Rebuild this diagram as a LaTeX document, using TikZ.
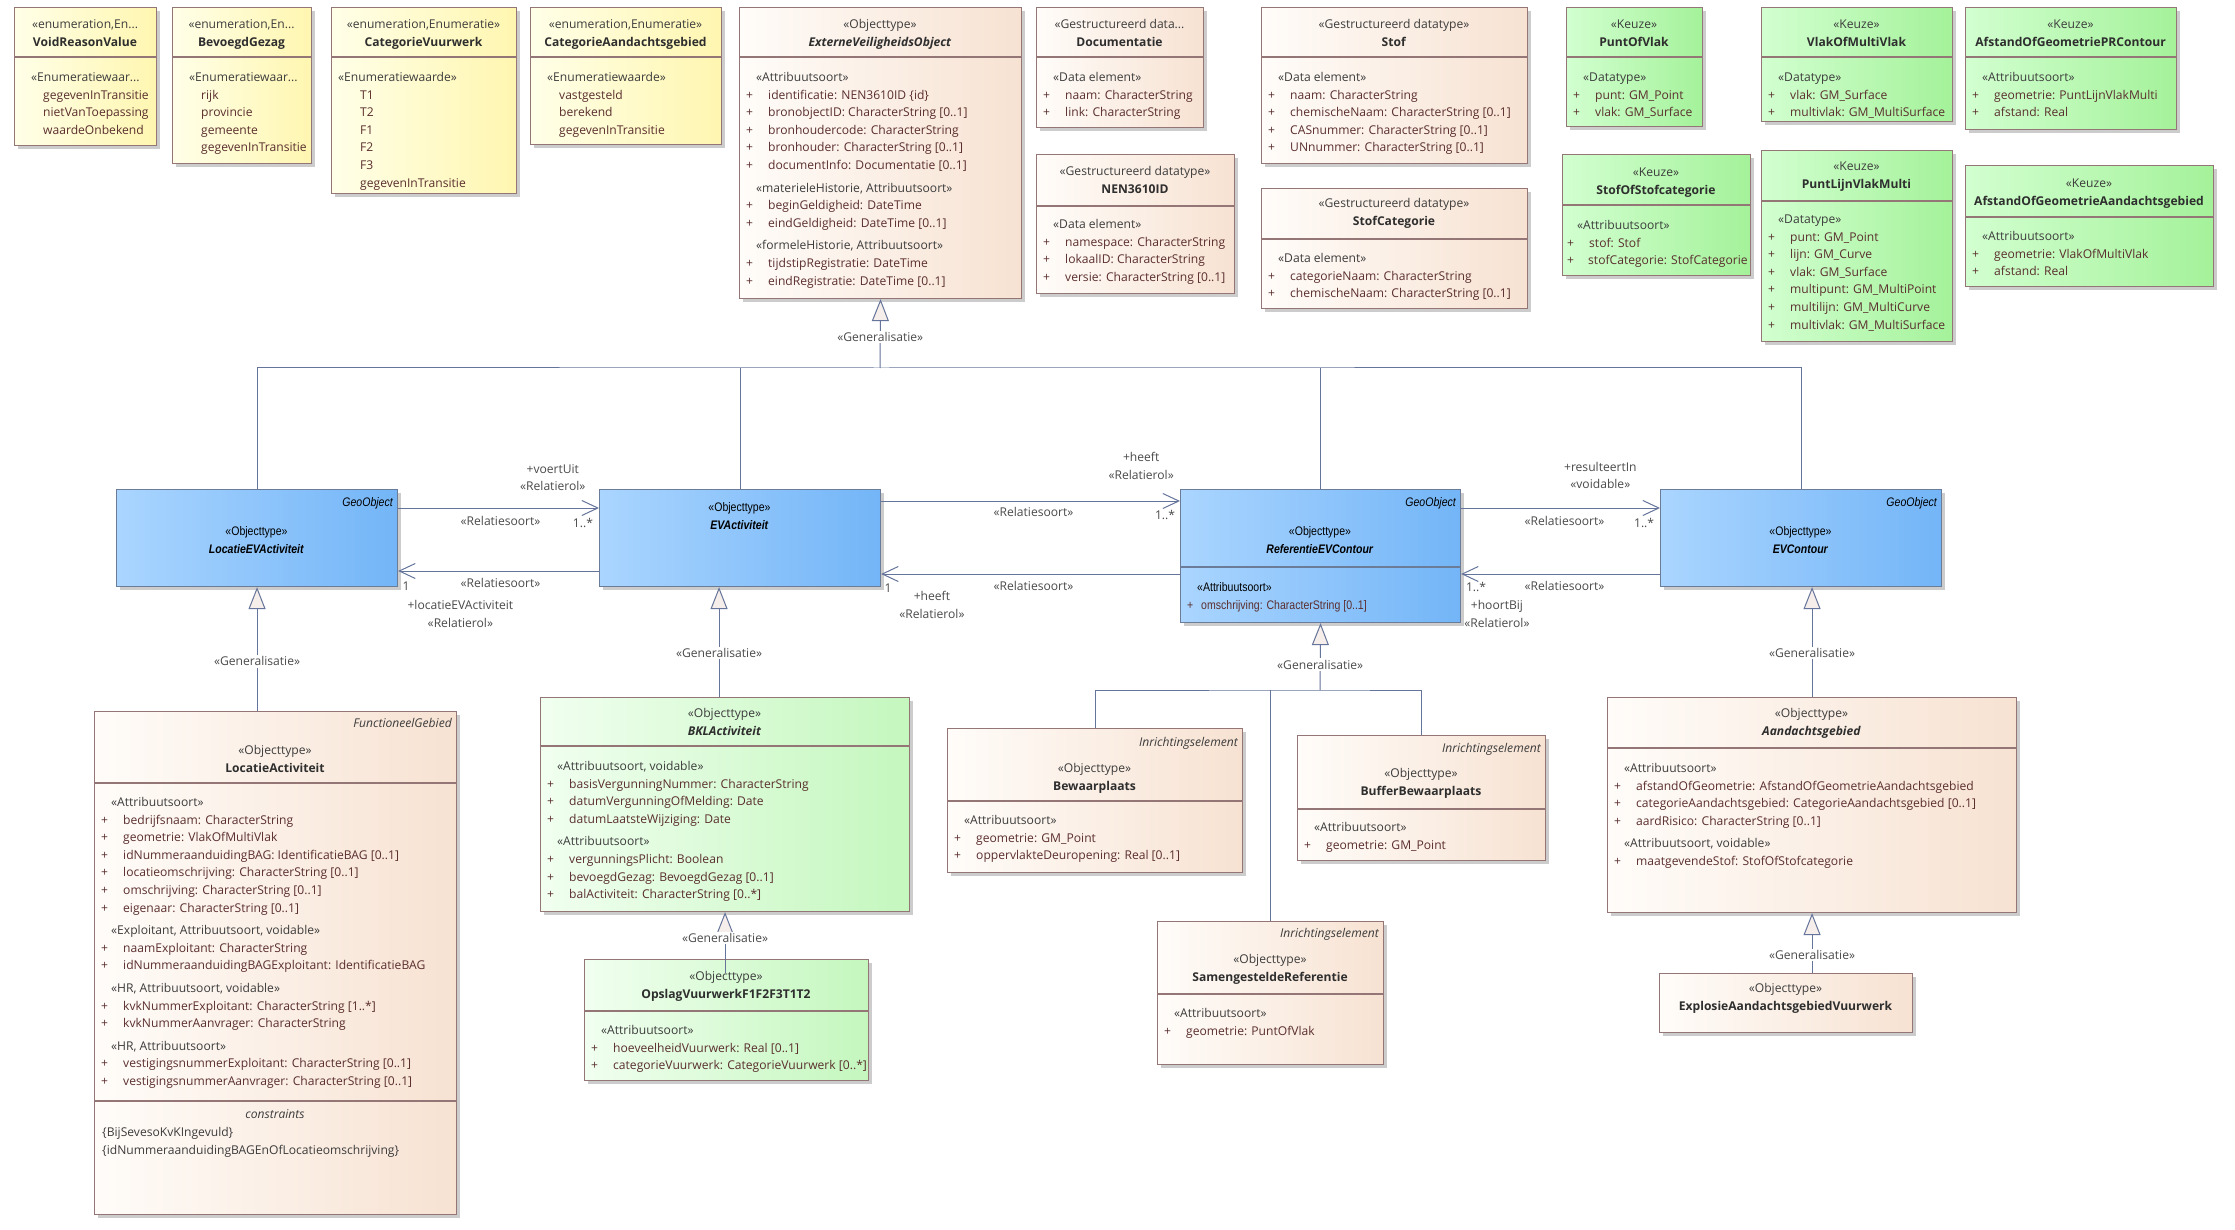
\documentclass[tikz,border=0pt]{standalone}
\usepackage{fontspec}
\setmainfont{Open Sans}
\newfontfamily\smal[FakeStretch=0.85]{Liberation Sans}
\usetikzlibrary{arrows.meta,calc}
\definecolor{rand}{HTML}{957676}
\definecolor{randblauw}{HTML}{6A7C98}
\definecolor{lijnkleur}{HTML}{65749A}
\definecolor{genvul}{HTML}{F6EEEA}
\definecolor{geelL}{HTML}{FFFFE8}
\definecolor{geelR}{HTML}{FFF6B0}
\definecolor{tanL}{HTML}{FFFCF9}
\definecolor{tanR}{HTML}{F7E2D2}
\definecolor{keuzeL}{HTML}{D2FFD0}
\definecolor{keuzeR}{HTML}{A4F29A}
\definecolor{groenL}{HTML}{F1FFF0}
\definecolor{groenR}{HTML}{C4F7BE}
\definecolor{blauwL}{HTML}{AAD5FF}
\definecolor{blauwR}{HTML}{73B5F7}
\definecolor{stgrijs}{HTML}{3C3C3C}
\definecolor{atbruin}{HTML}{5A2E2E}
\definecolor{naamgrijs}{HTML}{2E2E2E}
\definecolor{lblgrijs}{HTML}{4A4A4A}
\newcommand{\tekst}{\fontsize{12.1}{17.6}\selectfont}
\newcommand{\blauw}{\smal\fontsize{12.4}{17.6}\selectfont}
\newcommand{\grp}[1]{\strut\hspace*{10pt}\textcolor{stgrijs}{#1}}
\newcommand{\atr}[1]{\strut\makebox[22pt][l]{+}#1}
\newcommand{\wrd}[1]{\strut\hspace*{22pt}#1}
\newcommand{\naam}[1]{\strut\textcolor{naamgrijs}{\textbf{#1}}}
\newcommand{\anaam}[1]{\strut\textcolor{naamgrijs}{\textbf{\textit{#1}}}}
% naam, stijl, x, y, breedte, hoogte, kophoogte
\newcommand{\klasse}[7]{%
  \fill[schaduw] (#3+4,#4+4) rectangle ++(#5,#6);
  \node[#2, minimum width=#5pt, minimum height=#6pt] (#1) at (#3,#4) {};
  \ifdim #7pt>0pt
    \draw[scheid] ([yshift=-#7pt]#1.north west) -- ([yshift=-#7pt]#1.north east);
  \fi}
\tikzset{
  kader/.style={anchor=north west, inner sep=0, line width=1.1pt},
  geel/.style={kader, draw=rand, left color=geelL, right color=geelR},
  tan/.style={kader, draw=rand, left color=tanL, right color=tanR},
  keuze/.style={kader, draw=rand, left color=keuzeL, right color=keuzeR},
  lgroen/.style={kader, draw=rand, left color=groenL, right color=groenR},
  blauwbox/.style={kader, draw=randblauw, left color=blauwL, right color=blauwR},
  schaduw/.style={fill=black!20},
  scheid/.style={draw=rand, line width=1.1pt},
  kop/.style={anchor=north, inner sep=0, align=center, font=\tekst, text=stgrijs},
  bkop/.style={anchor=north, inner sep=0, align=center, font=\blauw, text=black},
  lijst/.style={anchor=north west, inner sep=0, align=left, font=\tekst, text=atbruin},
  ttag/.style={anchor=north east, inner sep=0, font=\tekst\itshape, text=stgrijs},
  btag/.style={anchor=north east, inner sep=0, font=\blauw\itshape, text=black},
  lijn/.style={draw=lijnkleur, line width=1pt},
  gen/.style={lijn, -{Triangle[length=22pt, width=17pt, fill=genvul]}},
  assoc/.style={lijn, -{Straight Barb[length=16pt, width=15pt]}},
  lbl/.style={inner sep=0, align=center, font=\tekst, text=lblgrijs},
  gl/.style={lbl, fill=white, inner sep=1.5pt},
}

\begin{document}
\begin{tikzpicture}[x=1pt, y=-1pt]
\fill[white] (0,0) rectangle (2235,1230);
\useasboundingbox (0,0) rectangle (2235,1230);

% enumeraties
\klasse{void}{geel}{14}{7}{142}{138}{50}
\node[kop] (void-k) at (85,16) {\strut«enumeration,En...\\\naam{VoidReasonValue}};
\node[lijst] (void-a) at (21,69) {\grp{«Enumeratiewaar...}\\\wrd{gegevenInTransitie}\\\wrd{nietVanToepassing}\\\wrd{waardeOnbekend}};

\klasse{bev}{geel}{172}{7}{139}{156}{50}
\node[kop] (bev-k) at (241.5,16) {\strut«enumeration,En...\\\naam{BevoegdGezag}};
\node[lijst] (bev-a) at (179,69) {\grp{«Enumeratiewaar...}\\\wrd{rijk}\\\wrd{provincie}\\\wrd{gemeente}\\\wrd{gegevenInTransitie}};

\klasse{catv}{geel}{331}{7}{185}{186}{50}
\node[kop] (catv-k) at (423.5,16) {\strut«enumeration,Enumeratie»\\\naam{CategorieVuurwerk}};
\node[lijst] (catv-a) at (338,69) {\strut\textcolor{stgrijs}{«Enumeratiewaarde»}\\\wrd{T1}\\\wrd{T2}\\\wrd{F1}\\\wrd{F2}\\\wrd{F3}\\\wrd{gegevenInTransitie}};

\klasse{cata}{geel}{530}{7}{191}{137}{50}
\node[kop] (cata-k) at (625.5,16) {\strut«enumeration,Enumeratie»\\\naam{CategorieAandachtsgebied}};
\node[lijst] (cata-a) at (537,69) {\grp{«Enumeratiewaarde»}\\\wrd{vastgesteld}\\\wrd{berekend}\\\wrd{gegevenInTransitie}};

% externe veiligheid en datatypes
\klasse{evo}{tan}{739}{7}{282}{291}{50}
\node[kop] (evo-k) at (880,16) {\strut«Objecttype»\\\anaam{ExterneVeiligheidsObject}};
\node[lijst] (evo-a) at (746,69) {\grp{«Attribuutsoort»}\\
  \atr{identificatie: NEN3610ID \{id\}}\\
  \atr{bronobjectID: CharacterString [0..1]}\\
  \atr{bronhoudercode: CharacterString}\\
  \atr{bronhouder: CharacterString [0..1]}\\
  \atr{documentInfo: Documentatie [0..1]}\\[5pt]
  \grp{«materieleHistorie, Attribuutsoort»}\\
  \atr{beginGeldigheid: DateTime}\\
  \atr{eindGeldigheid: DateTime [0..1]}\\[5pt]
  \grp{«formeleHistorie, Attribuutsoort»}\\
  \atr{tijdstipRegistratie: DateTime}\\
  \atr{eindRegistratie: DateTime [0..1]}};

\klasse{doc}{tan}{1036}{7}{167}{120}{50}
\node[kop] (doc-k) at (1119.5,16) {\strut«Gestructureerd data...\\\naam{Documentatie}};
\node[lijst] (doc-a) at (1043,69) {\grp{«Data element»}\\\atr{naam: CharacterString}\\\atr{link: CharacterString}};

\klasse{nen}{tan}{1036}{154}{198}{139}{52}
\node[kop] (nen-k) at (1135,163) {\strut«Gestructureerd datatype»\\\naam{NEN3610ID}};
\node[lijst] (nen-a) at (1043,216) {\grp{«Data element»}\\\atr{namespace: CharacterString}\\\atr{lokaalID: CharacterString}\\\atr{versie: CharacterString [0..1]}};

\klasse{stof}{tan}{1261}{7}{266}{156}{50}
\node[kop] (stof-k) at (1394,16) {\strut«Gestructureerd datatype»\\\naam{Stof}};
\node[lijst] (stof-a) at (1268,69) {\grp{«Data element»}\\\atr{naam: CharacterString}\\\atr{chemischeNaam: CharacterString [0..1]}\\\atr{CASnummer: CharacterString [0..1]}\\\atr{UNnummer: CharacterString [0..1]}};

\klasse{stofcat}{tan}{1261}{188}{266}{120}{51}
\node[kop] (stofcat-k) at (1394,195) {\strut«Gestructureerd datatype»\\\naam{StofCategorie}};
\node[lijst] (stofcat-a) at (1268,250) {\grp{«Data element»}\\\atr{categorieNaam: CharacterString}\\\atr{chemischeNaam: CharacterString [0..1]}};

% keuzes
\klasse{pov}{keuze}{1566}{7}{136}{119}{50}
\node[kop] (pov-k) at (1634,16) {\strut«Keuze»\\\naam{PuntOfVlak}};
\node[lijst] (pov-a) at (1573,69) {\grp{«Datatype»}\\\atr{punt: GM\_Point}\\\atr{vlak: GM\_Surface}};

\klasse{vomv}{keuze}{1761}{7}{191}{114}{50}
\node[kop] (vomv-k) at (1856.5,16) {\strut«Keuze»\\\naam{VlakOfMultiVlak}};
\node[lijst] (vomv-a) at (1768,69) {\grp{«Datatype»}\\\atr{vlak: GM\_Surface}\\\atr{multivlak: GM\_MultiSurface}};

\klasse{agpr}{keuze}{1965}{7}{211}{122}{50}
\node[kop] (agpr-k) at (2070.5,16) {\strut«Keuze»\\\naam{AfstandOfGeometriePRContour}};
\node[lijst] (agpr-a) at (1972,69) {\grp{«Attribuutsoort»}\\\atr{geometrie: PuntLijnVlakMulti}\\\atr{afstand: Real}};

\klasse{sos}{keuze}{1562}{154}{188}{121}{51}
\node[kop] (sos-k) at (1656,164) {\strut«Keuze»\\\naam{StofOfStofcategorie}};
\node[lijst] (sos-a) at (1567,217) {\grp{«Attribuutsoort»}\\\atr{stof: Stof}\\\strut\makebox[21pt][l]{+}stofCategorie: StofCategorie};

\klasse{plvm}{keuze}{1761}{150}{191}{191}{51}
\node[kop] (plvm-k) at (1856.5,158) {\strut«Keuze»\\\naam{PuntLijnVlakMulti}};
\node[lijst] (plvm-a) at (1768,211) {\grp{«Datatype»}\\\atr{punt: GM\_Point}\\\atr{lijn: GM\_Curve}\\\atr{vlak: GM\_Surface}\\\atr{multipunt: GM\_MultiPoint}\\\atr{multilijn: GM\_MultiCurve}\\\atr{multivlak: GM\_MultiSurface}};

\klasse{agag}{keuze}{1965}{165}{248}{121}{52}
\node[kop] (agag-k) at (2089,175) {\strut«Keuze»\\\naam{AfstandOfGeometrieAandachtsgebied}};
\node[lijst] (agag-a) at (1972,228) {\grp{«Attribuutsoort»}\\\atr{geometrie: VlakOfMultiVlak}\\\atr{afstand: Real}};

% geo-objecten
\klasse{locev}{blauwbox}{116}{489}{281}{97}{0}
\node[btag] (locev-t) at (393,494) {\strut GeoObject};
\node[bkop] (locev-k) at (256.5,523) {\strut«Objecttype»\\\strut\textbf{\textit{LocatieEVActiviteit}}};

\klasse{eva}{blauwbox}{599}{489}{281}{97}{0}
\node[bkop] (eva-k) at (739.5,499) {\strut«Objecttype»\\\strut\textbf{\textit{EVActiviteit}}};

\klasse{ref}{blauwbox}{1180}{489}{280}{133}{0}
\draw[draw=randblauw, line width=1.1pt] ([yshift=-78pt]ref.north west) -- ([yshift=-78pt]ref.north east);
\node[btag] (ref-t) at (1456,494) {\strut GeoObject};
\node[bkop] (ref-k) at (1320,523) {\strut«Objecttype»\\\strut\textbf{\textit{ReferentieEVContour}}};
\node[lijst, font=\blauw] (ref-a) at (1187,579) {\strut\hspace*{10pt}\textcolor{black}{«Attribuutsoort»}\\\strut\makebox[14pt][l]{+}omschrijving: CharacterString [0..1]};

\klasse{evc}{blauwbox}{1660}{489}{281}{97}{0}
\node[btag] (evc-t) at (1937,494) {\strut GeoObject};
\node[bkop] (evc-k) at (1800.5,523) {\strut«Objecttype»\\\strut\textbf{\textit{EVContour}}};

% onderste rij
\klasse{loca}{tan}{94}{711}{362}{503}{72}
\draw[scheid] ([yshift=-390pt]loca.north west) -- ([yshift=-390pt]loca.north east);
\node[ttag] (loca-t) at (452,715) {\strut FunctioneelGebied};
\node[kop] (loca-k) at (275,742) {\strut«Objecttype»\\\naam{LocatieActiviteit}};
\node[lijst] (loca-a) at (101,794) {\grp{«Attribuutsoort»}\\
  \atr{bedrijfsnaam: CharacterString}\\
  \atr{geometrie: VlakOfMultiVlak}\\
  \atr{idNummeraanduidingBAG: IdentificatieBAG [0..1]}\\
  \atr{locatieomschrijving: CharacterString [0..1]}\\
  \atr{omschrijving: CharacterString [0..1]}\\
  \atr{eigenaar: CharacterString [0..1]}\\[5pt]
  \grp{«Exploitant, Attribuutsoort, voidable»}\\
  \atr{naamExploitant: CharacterString}\\
  \atr{idNummeraanduidingBAGExploitant: IdentificatieBAG}\\[5pt]
  \grp{«HR, Attribuutsoort, voidable»}\\
  \atr{kvkNummerExploitant: CharacterString [1..*]}\\
  \atr{kvkNummerAanvrager: CharacterString}\\[5pt]
  \grp{«HR, Attribuutsoort»}\\
  \atr{vestigingsnummerExploitant: CharacterString [0..1]}\\
  \atr{vestigingsnummerAanvrager: CharacterString [0..1]}};
\node[kop, font=\tekst\itshape] (loca-c) at (275,1106) {\strut constraints};
\node[lijst, text=stgrijs] (loca-r) at (102,1124) {\strut\{BijSevesoKvKIngevuld\}\\\strut\{idNummeraanduidingBAGEnOfLocatieomschrijving\}};

\klasse{bkl}{lgroen}{540}{697}{369}{214}{49}
\node[kop] (bkl-k) at (724.5,705) {\strut«Objecttype»\\\anaam{BKLActiviteit}};
\node[lijst] (bkl-a) at (547,758) {\grp{«Attribuutsoort, voidable»}\\
  \atr{basisVergunningNummer: CharacterString}\\
  \atr{datumVergunningOfMelding: Date}\\
  \atr{datumLaatsteWijziging: Date}\\[5pt]
  \grp{«Attribuutsoort»}\\
  \atr{vergunningsPlicht: Boolean}\\
  \atr{bevoegdGezag: BevoegdGezag [0..1]}\\
  \atr{balActiviteit: CharacterString [0..*]}};

\klasse{opslag}{lgroen}{584}{959}{284}{121}{52}
\node[kop] (opslag-k) at (726,968) {\strut«Objecttype»\\\naam{OpslagVuurwerkF1F2F3T1T2}};
\node[lijst] (opslag-a) at (591,1022) {\grp{«Attribuutsoort»}\\\atr{hoeveelheidVuurwerk: Real [0..1]}\\\atr{categorieVuurwerk: CategorieVuurwerk [0..*]}};

\klasse{bew}{tan}{947}{728}{295}{144}{73}
\node[ttag] (bew-t) at (1238,734) {\strut Inrichtingselement};
\node[kop] (bew-k) at (1094.5,760) {\strut«Objecttype»\\\naam{Bewaarplaats}};
\node[lijst] (bew-a) at (954,812) {\grp{«Attribuutsoort»}\\\atr{geometrie: GM\_Point}\\\atr{oppervlakteDeuropening: Real [0..1]}};

\klasse{buf}{tan}{1297}{735}{248}{125}{74}
\node[ttag] (buf-t) at (1541,740) {\strut Inrichtingselement};
\node[kop] (buf-k) at (1421,765) {\strut«Objecttype»\\\naam{BufferBewaarplaats}};
\node[lijst] (buf-a) at (1304,819) {\grp{«Attribuutsoort»}\\\atr{geometrie: GM\_Point}};

\klasse{sam}{tan}{1157}{921}{226}{143}{73}
\node[ttag] (sam-t) at (1379,925) {\strut Inrichtingselement};
\node[kop] (sam-k) at (1270,951) {\strut«Objecttype»\\\naam{SamengesteldeReferentie}};
\node[lijst] (sam-a) at (1164,1005) {\grp{«Attribuutsoort»}\\\atr{geometrie: PuntOfVlak}};

\klasse{aand}{tan}{1607}{697}{409}{215}{51}
\node[kop] (aand-k) at (1811.5,705) {\strut«Objecttype»\\\anaam{Aandachtsgebied}};
\node[lijst] (aand-a) at (1614,760) {\grp{«Attribuutsoort»}\\
  \atr{afstandOfGeometrie: AfstandOfGeometrieAandachtsgebied}\\
  \atr{categorieAandachtsgebied: CategorieAandachtsgebied [0..1]}\\
  \atr{aardRisico: CharacterString [0..1]}\\[5pt]
  \grp{«Attribuutsoort, voidable»}\\
  \atr{maatgevendeStof: StofOfStofcategorie}};

\klasse{expl}{tan}{1659}{973}{253}{59}{0}
\node[kop] (expl-k) at (1785.5,980) {\strut«Objecttype»\\\naam{ExplosieAandachtsgebiedVuurwerk}};

% generalisaties
\coordinate (bus) at (880,368);
\draw[lijn] (locev.north) |- (bus) -| (evc.north);
\draw[lijn] (eva.north) -- (eva.north |- bus);
\draw[lijn] (ref.north) -- (ref.north |- bus);
\draw[gen] (bus) -- node[gl, pos=.45] (g1) {«Generalisatie»} (evo.south);

\draw[gen] (loca.north -| locev.south) -- node[gl, pos=.4] (g2) {«Generalisatie»} (locev.south);
\coordinate (eva-v) at ([xshift=-21pt]eva.south);
\draw[gen] (bkl.north -| eva-v) -- node[gl, pos=.4] (g3) {«Generalisatie»} (eva-v);
\coordinate (ops-in) at ([yshift=-14pt]opslag.north);
\draw[gen] (ops-in -| bkl.south) -- node[gl, pos=.58] (g4) {«Generalisatie»} (bkl.south);

\coordinate (rbus) at (1320,690);
\draw[lijn] (bew.north) |- (rbus) -| (buf.north);
\draw[lijn] (sam.north) -- (sam.north |- rbus);
\draw[gen] (rbus) -- node[gl, pos=.38] (g5) {«Generalisatie»} (ref.south);

\draw[gen] (aand.north) -- node[gl, pos=.4] (g6) {«Generalisatie»} (aand.north |- evc.south);
\draw[gen] (expl.north -| aand.south) -- node[gl, pos=.3] (g7) {«Generalisatie»} (aand.south);

% relaties
\draw[assoc] ([yshift=-19pt]locev.north east) -- ([yshift=-19pt]eva.north west)
  node[lbl, pos=.51, yshift=-14pt] {\strut«Relatiesoort»}
  node[lbl, pos=.92, yshift=-16pt] {\strut 1..*}
  node[lbl, pos=.77, yshift=29.5pt] {\strut+voertUit\\\strut«Relatierol»};
\draw[assoc] ([yshift=-82pt]eva.north west) -- ([yshift=-82pt]locev.north east)
  node[lbl, pos=.96, yshift=-16pt] {\strut 1}
  node[lbl, pos=.49, yshift=-13pt] {\strut«Relatiesoort»}
  node[lbl, pos=.69, yshift=-44pt] {\strut+locatieEVActiviteit\\\strut«Relatierol»};
\draw[assoc] ([yshift=-12pt]eva.north east) -- ([yshift=-12pt]ref.north west)
  node[lbl, pos=.87, yshift=34pt] {\strut+heeft\\\strut«Relatierol»}
  node[lbl, pos=.51, yshift=-12pt] {\strut«Relatiesoort»}
  node[lbl, pos=.95, yshift=-15pt] {\strut 1..*};
\draw[assoc] ([yshift=-85pt]ref.north west) -- ([yshift=-85pt]eva.north east)
  node[lbl, pos=.977, yshift=-15pt] {\strut 1}
  node[lbl, pos=.83, yshift=-32pt] {\strut+heeft\\\strut«Relatierol»}
  node[lbl, pos=.49, yshift=-13pt] {\strut«Relatiesoort»};
\draw[assoc] ([yshift=-19pt]ref.north east) -- ([yshift=-19pt]evc.north west)
  node[lbl, pos=.70, yshift=31.5pt] {\strut+resulteertIn\\\strut«voidable»}
  node[lbl, pos=.52, yshift=-14pt] {\strut«Relatiesoort»}
  node[lbl, pos=.92, yshift=-16pt] {\strut 1..*};
\draw[assoc] ([yshift=-85pt]evc.north west) -- ([yshift=-85pt]ref.north east)
  node[lbl, pos=.925, yshift=-14pt] {\strut 1..*}
  node[lbl, pos=.82, yshift=-41pt] {\strut+hoortBij\\\strut«Relatierol»}
  node[lbl, pos=.48, yshift=-13pt] {\strut«Relatiesoort»};
\end{tikzpicture}
\end{document}
